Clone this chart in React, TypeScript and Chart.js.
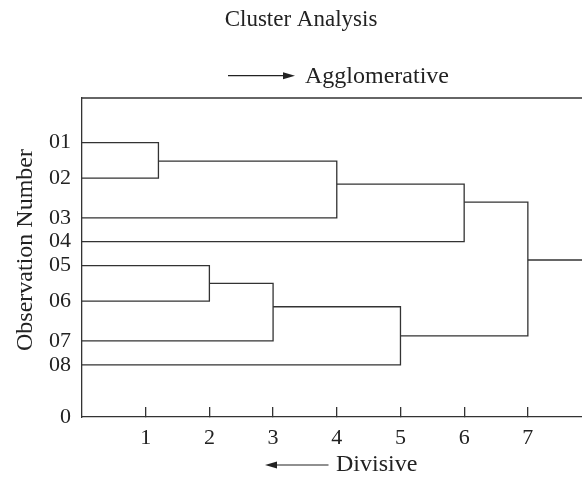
import React, { useEffect, useRef } from "react";
import { Chart, registerables } from "chart.js";

Chart.register(...registerables);

// ---- data ----
const leafLabels = ["01", "02", "03", "04", "05", "06", "07", "08"];
const leafY = [7.74, 6.74, 5.62, 4.95, 4.27, 3.27, 2.15, 1.47];
// merges: node ids 0-7 are leaves, merges get ids 8, 9, ...
const mergeLeft = [0, 4, 9, 8, 10, 11, 13];
const mergeRight = [1, 5, 6, 2, 7, 3, 12];
const mergeHeight = [1.2, 2, 3, 4, 5, 6, 7];
const mergeOutY = [7.22, 3.77, 3.11, 6.57, 2.29, 6.06, 4.43];
const xTicks = [1, 2, 3, 4, 5, 6, 7];
const yTickValues = [0, ...leafY];
const yTickLabels = ["0", ...leafLabels];
const xMax = 7.85;
const yMax = 9;

const titleText = "Cluster Analysis";
const topText = "Agglomerative";
const bottomText = "Divisive";
const yTitle = "Observation Number";

const LINE = "#333333";
const TEXT = "#222222";
const FONT = "Liberation Serif";

function buildDatasets() {
  const nodeX: number[] = leafY.map(() => 0);
  const nodeY: number[] = leafY.slice();
  const ds: any[] = [];
  mergeLeft.forEach((a, i) => {
    const b = mergeRight[i];
    const h = mergeHeight[i];
    ds.push({
      data: [
        { x: nodeX[a], y: nodeY[a] },
        { x: h, y: nodeY[a] },
        { x: h, y: nodeY[b] },
        { x: nodeX[b], y: nodeY[b] },
      ],
    });
    nodeX.push(h);
    nodeY.push(mergeOutY[i]);
  });
  const root = nodeX.length - 1;
  ds.push({
    data: [
      { x: nodeX[root], y: nodeY[root] },
      { x: xMax, y: nodeY[root] },
    ],
  });
  return ds.map((d) => ({
    ...d,
    showLine: true,
    borderColor: LINE,
    borderWidth: 1.3,
    pointRadius: 0,
    tension: 0,
    fill: false,
  }));
}

const decorPlugin = {
  id: "decor",
  afterDraw(chart: any) {
    const { ctx, chartArea } = chart;
    ctx.save();
    // top frame line
    ctx.strokeStyle = LINE;
    ctx.lineWidth = 1.3;
    ctx.beginPath();
    ctx.moveTo(chartArea.left, chartArea.top);
    ctx.lineTo(chartArea.right, chartArea.top);
    ctx.stroke();

    ctx.fillStyle = TEXT;
    // title
    ctx.font = `23px "${FONT}"`;
    ctx.textAlign = "center";
    ctx.textBaseline = "alphabetic";
    ctx.fillText(titleText, 301, 25.7);

    // Agglomerative arrow
    ctx.strokeStyle = TEXT;
    ctx.lineWidth = 1.2;
    ctx.beginPath();
    ctx.moveTo(228, 75.7);
    ctx.lineTo(284, 75.7);
    ctx.stroke();
    ctx.beginPath();
    ctx.moveTo(295, 75.7);
    ctx.lineTo(283, 72.2);
    ctx.lineTo(283, 79.2);
    ctx.closePath();
    ctx.fill();
    ctx.font = `24px "${FONT}"`;
    ctx.textAlign = "left";
    ctx.fillText(topText, 305, 83.3);

    // Divisive arrow
    ctx.beginPath();
    ctx.moveTo(276, 465);
    ctx.lineTo(328.5, 465);
    ctx.stroke();
    ctx.beginPath();
    ctx.moveTo(265, 465);
    ctx.lineTo(277, 461.5);
    ctx.lineTo(277, 468.5);
    ctx.closePath();
    ctx.fill();
    ctx.fillText(bottomText, 336, 470.7);

    // y title
    ctx.translate(31.5, 250);
    ctx.rotate(-Math.PI / 2);
    ctx.textAlign = "center";
    ctx.fillText(yTitle, 0, 0);
    ctx.restore();
  },
};

export default function App() {
  const ref = useRef<HTMLCanvasElement | null>(null);
  useEffect(() => {
    if (!ref.current) return;
    const chart = new Chart(ref.current, {
      type: "scatter",
      data: { datasets: buildDatasets() },
      options: {
        animation: false,
        responsive: false,
        events: [],
        layout: { padding: { top: 98, right: 0, left: 0, bottom: 0 } },
        plugins: {
          legend: { display: false },
          tooltip: { enabled: false },
          title: { display: false },
        },
        scales: {
          x: {
            type: "linear",
            min: 0,
            max: xMax,
            afterBuildTicks: (s: any) => {
              s.ticks = xTicks.map((v) => ({ value: v }));
            },
            afterFit: (s: any) => {
              s.height = 61;
            },
            grid: {
              display: true,
              drawOnChartArea: false,
              drawTicks: true,
              tickLength: -10,
              color: LINE,
              lineWidth: 1.3,
            },
            border: { display: true, color: LINE, width: 1.3 },
            ticks: {
              padding: 18,
              color: TEXT,
              autoSkip: false,
              maxRotation: 0,
              font: { family: FONT, size: 22 },
              callback: (v: any) => String(v),
            },
          },
          y: {
            type: "linear",
            min: 0,
            max: yMax,
            afterBuildTicks: (s: any) => {
              s.ticks = yTickValues.map((v) => ({ value: v }));
            },
            afterFit: (s: any) => {
              s.width = 82;
            },
            grid: { display: false, drawTicks: false },
            border: { display: true, color: LINE, width: 1.3 },
            ticks: {
              padding: 11,
              color: TEXT,
              autoSkip: false,
              font: { family: FONT, size: 22 },
              callback: (_v: any, i: number) => yTickLabels[i],
            },
          },
        },
      } as any,
      plugins: [decorPlugin],
    });
    return () => chart.destroy();
  }, []);
  return (
    <div style={{ position: "fixed", left: 0, top: 0, width: 582, height: 478, background: "#fff" }}>
      <canvas ref={ref} width={582} height={478} style={{ display: "block" }} />
    </div>
  );
}
